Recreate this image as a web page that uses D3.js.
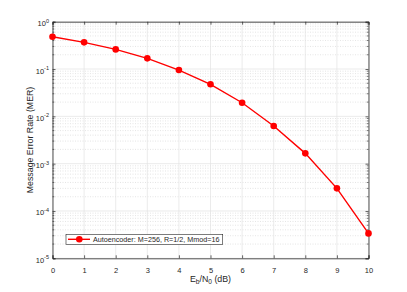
<!DOCTYPE html>
<html>
<head>
<meta charset="utf-8">
<script src="https://cdn.jsdelivr.net/npm/d3@7"></script>
<style>
  body { margin: 0; background: #fff; }
  text { font-family: "Liberation Sans", Arial, sans-serif; }
</style>
</head>
<body>
<div id="chart"></div>
<script>
// data
const ebno = [0, 1, 2, 3, 4, 5, 6, 7, 8, 9, 10];
const mer = [0.48, 0.366, 0.26, 0.168, 0.095, 0.0475, 0.0194, 0.00624, 0.00165, 0.000301, 0.0000336];
const xTicks = [0, 1, 2, 3, 4, 5, 6, 7, 8, 9, 10];
const yExponents = [-5, -4, -3, -2, -1, 0];
const seriesName = "Autoencoder: M=256, R=1/2, Mmod=16";

const width = 407, height = 292;
const margin = {top: 21.7, right: 38.5, bottom: 33.7, left: 52.5};
const axisColor = "#262626";

const svg = d3.select("#chart")
    .append("svg")
    .attr("width", width)
    .attr("height", height);

const x = d3.scaleLinear()
    .domain([0, 10])
    .range([margin.left, width - margin.right]);

const y = d3.scaleLog()
    .domain([1e-5, 1])
    .range([height - margin.bottom, margin.top]);

const x0 = x.range()[0], x1 = x.range()[1];
const y0 = y.range()[0], y1 = y.range()[1];

// minor values 2..9 x 10^k
const minorVals = [];
yExponents.slice(0, -1).forEach(e => {
    for (let m = 2; m <= 9; m++) minorVals.push(m * Math.pow(10, e));
});

// minor grid (dotted)
svg.append("g")
    .selectAll("line")
    .data(minorVals)
    .join("line")
    .attr("x1", x0).attr("x2", x1)
    .attr("y1", d => y(d)).attr("y2", d => y(d))
    .attr("stroke", "#d4d4d4")
    .attr("stroke-width", 0.6)
    .attr("stroke-dasharray", "1,1.5");

// major grid
const grid = svg.append("g").attr("stroke", "#e3e3e3").attr("stroke-width", 0.7);
grid.selectAll(".gx")
    .data(xTicks)
    .join("line")
    .attr("class", "gx")
    .attr("x1", d => x(d)).attr("x2", d => x(d))
    .attr("y1", y0).attr("y2", y1);
grid.selectAll(".gy")
    .data(yExponents)
    .join("line")
    .attr("class", "gy")
    .attr("x1", x0).attr("x2", x1)
    .attr("y1", d => y(Math.pow(10, d))).attr("y2", d => y(Math.pow(10, d)));

// axes
const xAxis = d3.axisBottom(x).tickValues(xTicks).tickSize(-3).tickPadding(9.5).tickFormat(d3.format("d"));
const gx = svg.append("g")
    .attr("transform", `translate(0,${y0})`)
    .call(xAxis);

const xAxisTop = d3.axisTop(x).tickValues(xTicks).tickSize(-3).tickFormat("");
svg.append("g")
    .attr("transform", `translate(0,${y1})`)
    .call(xAxisTop);

const yAxis = d3.axisLeft(y).tickValues(yExponents.map(e => Math.pow(10, e))).tickSize(-3).tickFormat("");
svg.append("g")
    .attr("transform", `translate(${x0},0)`)
    .call(yAxis);
const yAxisR = d3.axisRight(y).tickValues(yExponents.map(e => Math.pow(10, e))).tickSize(-3).tickFormat("");
svg.append("g")
    .attr("transform", `translate(${x1},0)`)
    .call(yAxisR);

// minor ticks on left and right
svg.append("g").selectAll("line")
    .data(minorVals)
    .join("line")
    .attr("x1", x0).attr("x2", x0 + 1.8)
    .attr("y1", d => y(d)).attr("y2", d => y(d))
    .attr("stroke", axisColor).attr("stroke-width", 0.6);
svg.append("g").selectAll("line")
    .data(minorVals)
    .join("line")
    .attr("x1", x1).attr("x2", x1 - 1.8)
    .attr("y1", d => y(d)).attr("y2", d => y(d))
    .attr("stroke", axisColor).attr("stroke-width", 0.6);

svg.selectAll(".domain").attr("stroke", axisColor).attr("stroke-width", 0.8);
svg.selectAll(".tick line").attr("stroke", axisColor).attr("stroke-width", 0.7);
gx.selectAll(".tick text")
    .attr("fill", axisColor)
    .style("font-size", "7.5px")
    .attr("dy", "0.71em");

// y tick labels 10^e
const ylab = svg.append("g");
yExponents.forEach(e => {
    const t = ylab.append("text")
        .attr("x", x0 - 3.5)
        .attr("y", y(Math.pow(10, e)) + 4.5)
        .attr("text-anchor", "end")
        .attr("fill", axisColor)
        .style("font-size", "7.5px");
    t.append("tspan").text("10");
    t.append("tspan")
        .attr("dy", -3.5)
        .style("font-size", "5.5px")
        .text(e);
});

// axis labels
const xl = svg.append("text")
    .attr("x", (x0 + x1) / 2)
    .attr("y", 281.5)
    .attr("text-anchor", "middle")
    .attr("fill", axisColor)
    .style("font-size", "8.8px");
xl.append("tspan").text("E");
xl.append("tspan").attr("dy", 2.2).style("font-size", "6.6px").text("b");
xl.append("tspan").attr("dy", -2.2).text("/N");
xl.append("tspan").attr("dy", 2.2).style("font-size", "6.6px").text("0");
xl.append("tspan").attr("dy", -2.2).text(" (dB)");

svg.append("text")
    .attr("transform", `translate(33.3,${(y0 + y1) / 2}) rotate(-90)`)
    .attr("text-anchor", "middle")
    .attr("fill", axisColor)
    .style("font-size", "8.8px")
    .text("Message Error Rate (MER)");

// series
const points = ebno.map((d, i) => ({x: d, y: mer[i]}));
svg.append("path")
    .datum(points)
    .attr("fill", "none")
    .attr("stroke", "#ff0000")
    .attr("stroke-width", 1.4)
    .attr("d", d3.line().x(d => x(d.x)).y(d => y(d.y)));

svg.append("g")
    .selectAll("circle")
    .data(points)
    .join("circle")
    .attr("cx", d => x(d.x))
    .attr("cy", d => y(d.y))
    .attr("r", 3.3)
    .attr("fill", "#ff0000");

// legend
const legend = svg.append("g").attr("transform", "translate(66,234.3)");
legend.append("rect")
    .attr("width", 156.7)
    .attr("height", 10)
    .attr("fill", "#fff")
    .attr("stroke", axisColor)
    .attr("stroke-width", 0.6);
legend.append("line")
    .attr("x1", 2).attr("x2", 24)
    .attr("y1", 5).attr("y2", 5)
    .attr("stroke", "#ff0000")
    .attr("stroke-width", 1.4);
legend.append("circle")
    .attr("cx", 13.3).attr("cy", 5).attr("r", 3.3)
    .attr("fill", "#ff0000");
legend.append("text")
    .attr("x", 27)
    .attr("y", 7.6)
    .attr("fill", axisColor)
    .style("font-size", "7.2px")
    .text(seriesName);
</script>
</body>
</html>
